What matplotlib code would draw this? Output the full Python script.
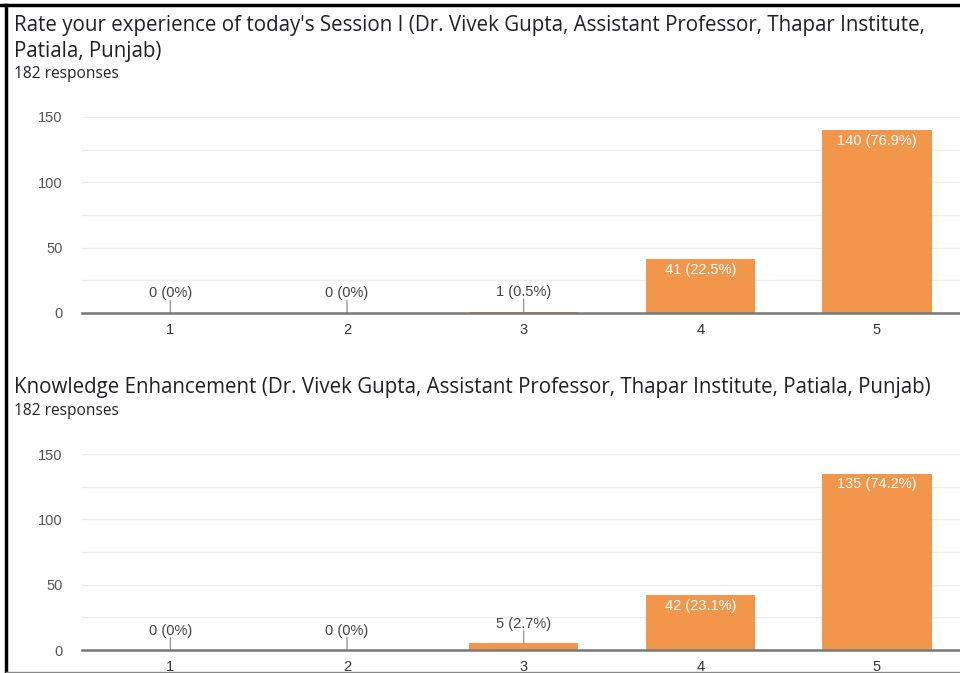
import matplotlib
matplotlib.use('Agg')
import matplotlib.pyplot as plt
from matplotlib.lines import Line2D

categories = [1, 2, 3, 4, 5]
session_counts = [0, 0, 1, 41, 140]
session_pct = ['0%', '0%', '0.5%', '22.5%', '76.9%']
knowledge_counts = [0, 0, 5, 42, 135]
knowledge_pct = ['0%', '0%', '2.7%', '23.1%', '74.2%']

title1_lines = ["Rate your experience of today's Session I (Dr. Vivek Gupta, Assistant Professor, Thapar Institute,",
                "Patiala, Punjab)"]
title2 = "Knowledge Enhancement (Dr. Vivek Gupta, Assistant Professor, Thapar Institute, Patiala, Punjab)"
responses = "182 responses"
yticks = [0, 50, 100, 150]

bar_color = '#f2964b'
head_font = ['Open Sans', 'DejaVu Sans']
chart_font = ['Liberation Sans', 'DejaVu Sans']
plt.rcParams['font.family'] = chart_font

W, H = 960, 673
fig = plt.figure(figsize=(W / 100, H / 100), dpi=100)


def px(x, y):
    # pixel coords (from top-left) -> figure fraction
    return x / W, 1 - y / H


def draw_chart(top_px, bottom_px, counts, pcts):
    l, b = px(82, bottom_px)
    _, t = px(0, top_px)
    ax = fig.add_axes([l, b, 1 - l, t - b])
    ax.set_xlim(0.5, 5.47)
    ax.set_ylim(0, 150)
    for g in range(25, 151, 25):
        ax.axhline(g, color='#ececec', lw=1, zorder=0)
    ax.bar(categories, counts, width=0.62, color=bar_color, zorder=2)
    for c, v, p in zip(categories, counts, pcts):
        lab = f'{v} ({p})'
        if v > 20:
            ax.annotate(lab, (c, v), xytext=(0, -2.5), textcoords='offset points',
                        ha='center', va='top', color='white', fontsize=10.5)
        else:
            ax.annotate('', (c, v), xytext=(0, 9), textcoords='offset points',
                        arrowprops=dict(arrowstyle='-', color='#999999', lw=1,
                                        shrinkA=0, shrinkB=0))
            ax.annotate(lab, (c, v), xytext=(0, 9), textcoords='offset points',
                        ha='center', va='bottom', color='#444444', fontsize=10.5)
    ax.set_yticks(yticks)
    ax.set_xticks(categories)
    ax.tick_params(axis='y', length=0, pad=14, labelsize=10.5, labelcolor='#555555')
    ax.tick_params(axis='x', length=0, pad=7, labelsize=10.5, labelcolor='#333333')
    for s in ['top', 'right', 'left']:
        ax.spines[s].set_visible(False)
    ax.spines['bottom'].set_color('#777777')
    ax.spines['bottom'].set_linewidth(1.8)
    ax.spines['bottom'].set_zorder(3)
    return ax


for i, line in enumerate(title1_lines):
    fig.text(*px(14, 26 + 26 * i), line, fontsize=14.8, color='#202124',
             va='center', family=head_font)
fig.text(*px(14, 74), responses, fontsize=11.2, color='#202124', va='center',
         family=head_font)
draw_chart(117, 313, session_counts, session_pct)

fig.text(*px(14, 388), title2, fontsize=14.8, color='#202124', va='center',
         family=head_font)
fig.text(*px(14, 411), responses, fontsize=11.2, color='#202124', va='center',
         family=head_font)
draw_chart(454, 650, knowledge_counts, knowledge_pct)

# screenshot frame
fig.add_artist(Line2D([0, 1], [1 - 5 / H, 1 - 5 / H], color='black', lw=2.5))
fig.add_artist(Line2D([6 / W, 6 / W], [0, 1 - 5 / H], color='black', lw=2.5))
fig.add_artist(Line2D([6 / W, 1], [1.5 / H, 1.5 / H], color='#888888', lw=1))

fig.savefig('out.png', dpi=100, facecolor='white')
